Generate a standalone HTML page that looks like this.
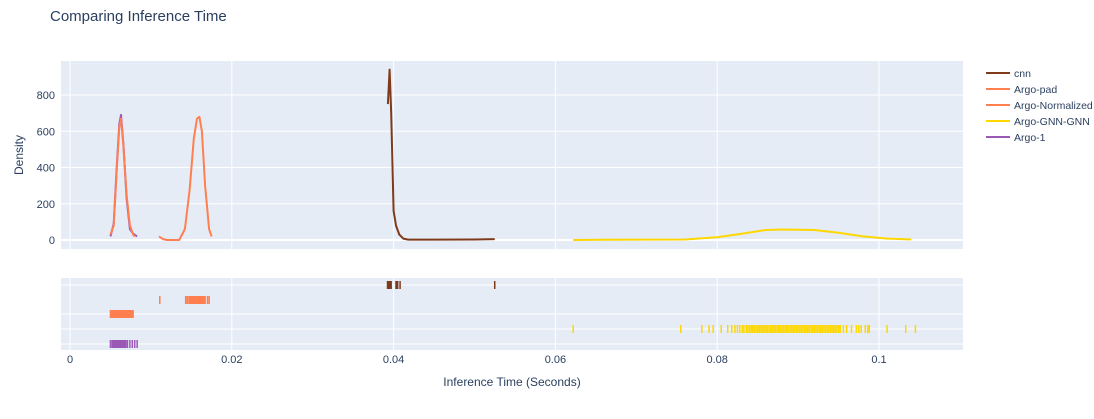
<!DOCTYPE html>
<html><head><meta charset="utf-8"><style>
body{margin:0;background:#fff;font-family:"Liberation Sans",sans-serif;}
svg text{font-family:"Liberation Sans",sans-serif;fill:#2a3f5f;}
</style></head><body>
<svg id="chart" width="1094" height="414">
<rect x="0" y="0" width="1094" height="414" fill="#fff"/>
<text x="50" y="21" font-size="15">Comparing Inference Time</text>
<rect x="61" y="61" width="902" height="188" fill="#e5ecf6"/>
<rect x="61" y="278" width="902" height="72" fill="#e5ecf6"/>
<g id="grid"></g>
<g id="curves"></g>
<g id="rugs"></g>
<g id="axes"></g>
<text transform="translate(23,155) rotate(-90)" text-anchor="middle" font-size="12">Density</text>
<text x="512" y="386" text-anchor="middle" font-size="12">Inference Time (Seconds)</text>
<g id="legend"></g>
</svg>
<script>
const seriesNames=["cnn","Argo-pad","Argo-Normalized","Argo-GNN-GNN","Argo-1"];
const seriesColors=["#7f3a1b","#ff7f50","#ff7f50","#ffd700","#9b59b6"];
const xTicks=[0,0.02,0.04,0.06,0.08,0.1];
const xTickLabels=["0","0.02","0.04","0.06","0.08","0.1"];
const yTicks=[0,200,400,600,800];
const cnnX=[0.0393,0.0395,0.0397,0.0400,0.0403,0.0407,0.0412,0.0418,0.045,0.05,0.0525];
const cnnY=[750,940,700,160,80,30,8,2,2,3,5];
const padX=[0.0110,0.0115,0.0120,0.0130,0.0135,0.0142,0.0148,0.0153,0.0157,0.0160,0.0163,0.0167,0.0172,0.0175];
const padY=[20,5,0,0,0,60,280,560,670,680,600,300,60,20];
const normX=[0.0050,0.0054,0.0058,0.0061,0.0063,0.0066,0.0070,0.0074,0.0078,0.0080];
const normY=[30,80,400,620,670,520,250,80,30,20];
const gnnX=[0.0622,0.066,0.070,0.076,0.080,0.083,0.086,0.088,0.092,0.095,0.098,0.101,0.104];
const gnnY=[0,1,2,3,15,35,55,58,55,40,20,8,3];
const a1X=[0.0050,0.0054,0.0058,0.0061,0.0063,0.0066,0.0070,0.0074,0.0078,0.0083];
const a1Y=[20,90,420,640,690,530,230,60,35,20];
const cnnRug=[0.03925,0.0393,0.03935,0.0394,0.03945,0.0395,0.03955,0.0396,0.03965,0.0397,0.0403,0.04035,0.0404,0.0405,0.0408,0.0525];
const padRug=[0.0111,0.0143,0.0145,0.0147,0.0148,0.0149,0.0150,0.0151,0.0152,0.0153,0.0154,0.0155,0.0156,0.0157,0.0158,0.0159,0.0160,0.0161,0.0162,0.0163,0.0164,0.0165,0.0166,0.0167,0.0170,0.0172];
const normRug=[0.0050,0.0051,0.0052,0.0053,0.0054,0.0055,0.0056,0.0057,0.0058,0.0059,0.0060,0.0061,0.0062,0.0063,0.0064,0.0065,0.0066,0.0067,0.0068,0.0069,0.0070,0.0071,0.0072,0.0073,0.0074,0.0075,0.0076,0.0077,0.0078];
const gnnRug=[0.0622,0.0755,0.0781,0.0790,0.0795,0.0805,0.0813,0.0818,0.0822,0.0825,0.0828,0.0831,0.0833,0.0836,0.0838,0.0840,0.0842,0.0844,0.0846,0.0848,0.0850,0.0852,0.0853,0.0855,0.0857,0.0859,0.0860,0.0862,0.0864,0.0866,0.0868,0.0870,0.0872,0.0874,0.0876,0.0878,0.0880,0.0882,0.0884,0.0886,0.0888,0.0890,0.0892,0.0894,0.0896,0.0898,0.0900,0.0902,0.0904,0.0906,0.0908,0.0910,0.0912,0.0914,0.0916,0.0918,0.0920,0.0922,0.0924,0.0926,0.0928,0.0930,0.0932,0.0934,0.0936,0.0938,0.0940,0.0942,0.0944,0.0946,0.0948,0.0950,0.0952,0.0956,0.0960,0.0966,0.0972,0.0975,0.0978,0.0983,0.0986,0.0988,0.1010,0.1033,0.1045];
const a1Rug=[0.0050,0.0052,0.0053,0.0054,0.0055,0.0056,0.0057,0.0058,0.0059,0.0060,0.0061,0.0062,0.0063,0.0064,0.0065,0.0066,0.0067,0.0068,0.0069,0.0071,0.0074,0.0077,0.0080,0.0083];

const NS="http://www.w3.org/2000/svg";
const xs=v=>70+v*8090;
const ys=v=>240-v*0.18125;
const rugRows=[285,300,314,329,344];
function mk(tag,attrs,parent){const e=document.createElementNS(NS,tag);for(const k in attrs)e.setAttribute(k,attrs[k]);parent.appendChild(e);return e;}
const grid=document.getElementById('grid'),axes=document.getElementById('axes');
xTicks.forEach((t,i)=>{
  const g1=mk('line',{x1:xs(t),x2:xs(t),y1:61,y2:249,stroke:'#fff','stroke-width':1},grid);
  
  
  const g2=mk('line',{x1:xs(t),x2:xs(t),y1:278,y2:350,stroke:'#fff','stroke-width':1},grid);
  
  
  const tx=mk('text',{x:xs(t),y:363,'text-anchor':'middle','font-size':11},axes);
  tx.textContent=xTickLabels[i];
  
  
});
yTicks.forEach(t=>{
  const g=mk('line',{x1:61,x2:963,y1:ys(t),y2:ys(t),stroke:'#fff','stroke-width':t===0?2:1},grid);
  
  
  const tx=mk('text',{x:55,y:ys(t)+4,'text-anchor':'end','font-size':11},axes);
  tx.textContent=String(t);
  
  
});
[285,314,329,344].forEach(y=>{
  const g=mk('line',{x1:61,x2:963,y1:y,y2:y,stroke:'#fff','stroke-width':1},grid);
  
  
});
const curves=document.getElementById('curves');
const curveData=[[cnnX,cnnY],[padX,padY],[normX,normY],[gnnX,gnnY],[a1X,a1Y]];
const drawOrder=[4,2,1,3,0];
drawOrder.forEach(i=>{
  const [X,Y]=curveData[i];
  const d=X.map((x,j)=>(j?'L':'M')+xs(x).toFixed(1)+' '+ys(Y[j]).toFixed(1)).join(' ');
  const p=mk('path',{d:d,fill:'none',stroke:seriesColors[i],'stroke-width':2,'stroke-linejoin':'round'},curves);
  
  
});
const rugs=document.getElementById('rugs');
const rugData=[cnnRug,padRug,normRug,gnnRug,a1Rug];
rugData.forEach((arr,i)=>{
  arr.forEach(v=>{
    const l=mk('line',{x1:xs(v),x2:xs(v),y1:rugRows[i]-4,y2:rugRows[i]+4,stroke:seriesColors[i],'stroke-width':1.5},rugs);
    
    
  });
});
const legend=document.getElementById('legend');
seriesNames.forEach((n,i)=>{
  const y=73+i*16;
  const g=mk('g',{},legend);
  
  
  mk('line',{x1:986,x2:1010,y1:y,y2:y,stroke:seriesColors[i],'stroke-width':2},g);
  const t=mk('text',{x:1014,y:y+4,'font-size':10.5},g);
  t.textContent=n;
});
</script>
</body></html>
